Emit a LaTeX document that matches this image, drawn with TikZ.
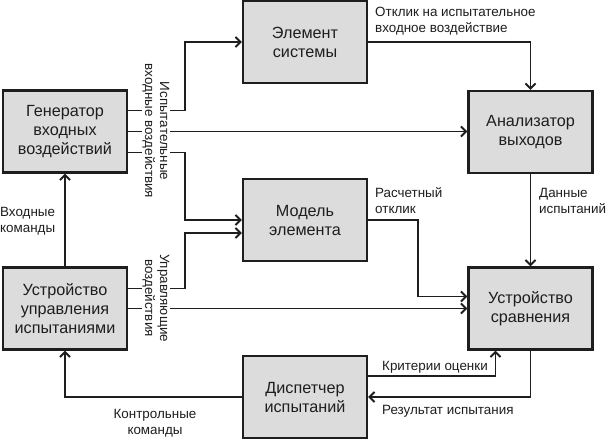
\documentclass[tikz,border=0pt]{standalone}
\usepackage{fontspec}
\setmainfont{Liberation Sans}
\usetikzlibrary{arrows.meta,calc}
\definecolor{boxfill}{HTML}{DCDCDC}
\definecolor{ink}{HTML}{1E1E1E}
\begin{document}
\begin{tikzpicture}[x=1pt,y=-1pt,
  blk/.style={draw=ink,line width=2.4pt,fill=boxfill,minimum width=124pt,minimum height=82pt,
    inner sep=0pt,align=center,font=\fontsize{16.2}{19}\selectfont,text=ink},
  arr/.style={draw=ink,line width=1.9pt,-{Straight Barb[length=5pt,width=10pt]}},
  lbl/.style={inner sep=0pt,font=\fontsize{13.4}{16}\selectfont,text=ink},
  rlbl/.style={inner sep=1pt,fill=white,font=\fontsize{13.4}{15}\selectfont,text=ink,align=center,rotate=-90}]
\useasboundingbox[fill=white] (0,0) rectangle (607,440);
% boxes
\node[blk] (gen)   at (65,131.5)  {Генератор\\входных\\воздействий};
\node[blk] (elem)  at (305,42)    {Элемент\\системы};
\node[blk] (anal)  at (530.5,132) {Анализатор\\выходов};
\node[blk] (model) at (305,220)   {Модель\\элемента};
\node[blk] (ctrl)  at (65,308.5)  {Устройство\\управления\\испытаниями};
\node[blk] (comp)  at (530.5,308.5) {Устройство\\сравнения};
\node[blk] (disp)  at (305,397)   {Диспетчер\\испытаний};
% connectors from generator
\draw[arr] ($(gen.east)+(0,-21)$) -- ++(57,0) |- (elem.west);
\draw[arr] (gen.east) -- (gen.east -| anal.west);
\draw[arr] ($(gen.east)+(0,21)$) -- ++(57,0) |- (model.west);
% connectors from control unit
\draw[arr] ($(ctrl.east)+(0,-20)$) -- ++(57,0) |- ($(model.west)+(0,13)$);
\draw[arr] (ctrl.east) -- (ctrl.east -| comp.west);
% rotated labels covering the gaps
\node[rlbl] (lblin)  at (156,131) {Испытательные\\входные воздействия};
\node[rlbl] (lblctl) at (156,298) {Управляющие\\воздействия};
% other connectors
\draw[arr] (elem.east) -| (anal.north);
\draw[arr] (anal.south) -- (comp.north);
\draw[arr] (model.east) -- ++(50,0) |- ($(comp.west)+(0,-12)$);
\draw[arr] ($(disp.east)+(0,-21)$) -| ($(comp.south)+(-35,0)$);
\draw[arr] (comp.south) |- (disp.east);
\draw[arr] (disp.west) -| (ctrl.south);
\draw[arr] (ctrl.north) -- (gen.south);
% labels
\node[lbl,anchor=west,align=left] (l1) at (375,21) {Отклик на испытательное\\входное воздействие};
\node[lbl,anchor=west,align=left] (l2) at (539,201) {Данные\\испытаний};
\node[lbl,anchor=west,align=left] (l3) at (375,201) {Расчетный\\отклик};
\node[lbl,anchor=west] (l4) at (382,367) {Критерии оценки};
\node[lbl,anchor=west] (l5) at (382,411) {Результат испытания};
\node[lbl,align=center] (l6) at (155,423.5) {Контрольные\\команды};
\node[lbl,anchor=west,align=left] (l7) at (0,221) {Входные\\команды};
\end{tikzpicture}
\end{document}
